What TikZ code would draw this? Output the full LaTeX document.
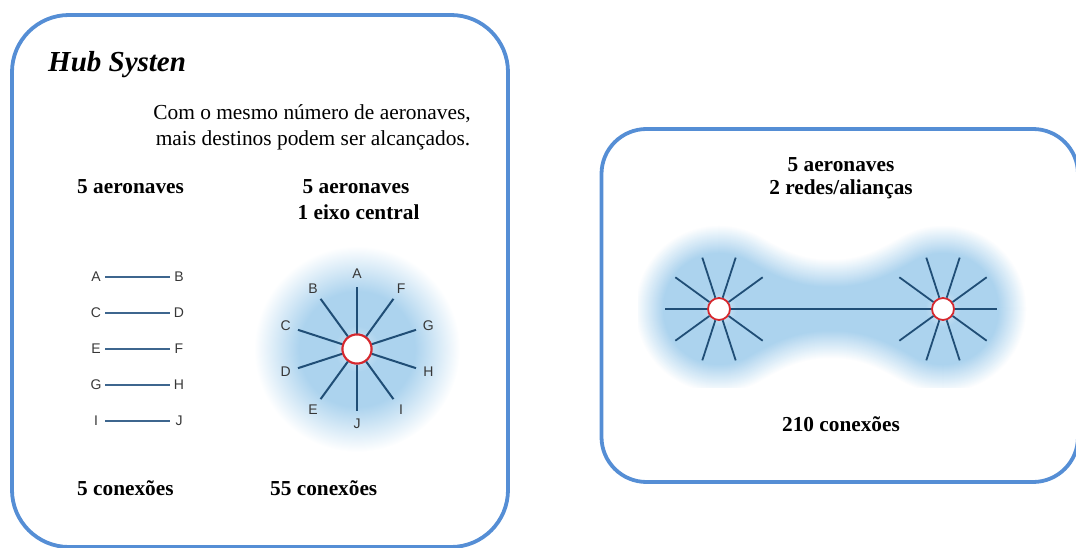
\documentclass[tikz,border=0pt]{standalone}
\usepackage{fontspec}
\setmainfont{Liberation Serif}
\newfontfamily\sansf{Liberation Sans}
\definecolor{boxblue}{RGB}{85,142,213}
\definecolor{glowblue}{RGB}{172,211,238}
\definecolor{spokeblue}{RGB}{32,78,118}
\definecolor{pairblue}{RGB}{62,102,142}
\definecolor{lettergray}{RGB}{55,55,55}
\definecolor{hubred}{RGB}{214,40,46}
\pgfdeclareradialshading{hubglow}{\pgfpoint{0bp}{0bp}}{color(0bp)=(glowblue); color(14bp)=(glowblue); color(25bp)=(white); color(50bp)=(white)}
\pgfdeclareradialshading{halo}{\pgfpoint{0bp}{0bp}}{color(0bp)=(glowblue!45!white); color(25bp)=(glowblue); color(50bp)=(glowblue)}
\begin{document}
\begin{tikzpicture}[x=1pt,y=-1pt,
  panel/.style={draw=boxblue, line width=3.8pt},
  bodytext/.style={font=\fontsize{21.4}{26}\selectfont, inner sep=0, anchor=base},
  boldtext/.style={font=\bfseries\fontsize{21.3}{26}\selectfont, inner sep=0, anchor=base},
  letter/.style={font=\sansf\fontsize{14}{14}\selectfont, text=lettergray, inner sep=0},
  pairletter/.style={letter, minimum width=18pt},
  pairline/.style={draw=pairblue, line width=1.5pt},
  spoke/.style={draw=spokeblue, line width=2pt},
  hub/.style={circle, draw=hubred, fill=white, line width=2pt, inner sep=0},
]
\useasboundingbox (0,0) rectangle (1076,548);

% panels
\draw[panel, rounded corners=57pt] (12,15) rectangle (508,547);
\draw[panel, rounded corners=45pt] (601.5,129) rectangle (1078,482);

% titles and captions of the left panel
\node[font=\bfseries\itshape\fontsize{29}{34}\selectfont, inner sep=0, anchor=base west] (title) at (48,72) {Hub Systen};
\node[bodytext] (intro1) at (312,120) {Com o mesmo número de aeronaves,};
\node[bodytext] (intro2) at (313,146) {mais destinos podem ser alcançados.};
\node[boldtext, anchor=base west] (capA) at (77,194) {5 aeronaves};
\node[boldtext] (capB1) at (356,194) {5 aeronaves};
\node[boldtext] (capB2) at (358.5,219) {1 eixo central};
\node[boldtext, anchor=base west] (conA) at (77,495) {5 conexões};
\node[boldtext, anchor=base west] (conB) at (270,495) {55 conexões};

% point-to-point pairs
\foreach \l/\r/\y in {A/B/277, C/D/313, E/F/349, G/H/385, I/J/421}{
  \node[pairletter] (p\l) at (96,\y) {\l};
  \node[pairletter] (q\r) at (179,\y) {\r};
  \draw[pairline] (p\l) -- (q\r);
}

% single hub with ten spokes
\shade[shading=hubglow] (357,349) circle (103);
\node[circle, minimum size=46pt, inner sep=0, shading=halo] (haloL) at (357,349) {};
\node[hub, minimum size=29pt] (hubC) at (357,349) {};
\foreach \t/\a in {A/90, F/54, G/18, H/-18, I/-54, J/-90, E/-126, D/-162, C/162, B/126}{
  \coordinate (s\t) at ({357+62*cos(\a)},{349-62*sin(\a)});
  \node[letter] (h\t) at ({357+75*cos(\a)},{349-75*sin(\a)}) {\t};
  \draw[spoke] (hubC) -- (s\t);
}
\node[hub, minimum size=29pt] at (hubC) {};

% two linked hubs
\begin{scope}
  \clip (638,200) rectangle (1028,387);
  \foreach \i in {0,...,28}{
    \pgfmathsetmacro\d{28-\i}
    \pgfmathsetmacro\R{56+\d}
    \pgfmathsetmacro\h{22+\d}
    \pgfmathsetmacro\mix{100*\i/28}
    \pgfmathsetmacro\ax{719+0.5*\R}
    \pgfmathsetmacro\ay{0.866*\R}
    \pgfmathsetmacro\k{0.4*(831-\ax)}
    \fill[glowblue!\mix!white]
      (\ax,309-\ay) .. controls (\ax+0.866*\k,309-\ay+0.5*\k) and (831-\k,309-\h) .. (831,309-\h)
      .. controls (831+\k,309-\h) and (1662-\ax-0.866*\k,309-\ay+0.5*\k) .. (1662-\ax,309-\ay)
      arc[start angle=240, end angle=480, radius=\R]
      .. controls (1662-\ax-0.866*\k,309+\ay-0.5*\k) and (831+\k,309+\h) .. (831,309+\h)
      .. controls (831-\k,309+\h) and (\ax+0.866*\k,309+\ay-0.5*\k) .. (\ax,309+\ay)
      arc[start angle=60, end angle=300, radius=\R] -- cycle;
  }
\end{scope}
\node[circle, minimum size=36pt, inner sep=0, shading=halo] (haloP) at (719,309) {};
\node[circle, minimum size=36pt, inner sep=0, shading=halo] (haloQ) at (943,309) {};
\node[hub, minimum size=22pt, line width=1.8pt] (hubP) at (719,309) {};
\node[hub, minimum size=22pt, line width=1.8pt] (hubQ) at (943,309) {};
\foreach \k in {1,...,9}{
  \coordinate (u\k) at ({719+54*cos(36*\k)},{309-54*sin(36*\k)});
  \draw[spoke, line width=1.8pt] (hubP) -- (u\k);
}
\foreach \k in {0,1,2,3,4,6,7,8,9}{
  \coordinate (v\k) at ({943+54*cos(36*\k)},{309-54*sin(36*\k)});
  \draw[spoke, line width=1.8pt] (hubQ) -- (v\k);
}
\draw[spoke, line width=1.8pt] (hubP) -- (hubQ);

% captions of the right panel
\node[boldtext] (capC1) at (841,172) {5 aeronaves};
\node[boldtext] (capC2) at (841,195) {2 redes/alianças};
\node[boldtext] (conC) at (841,431) {210 conexões};
\end{tikzpicture}
\end{document}
